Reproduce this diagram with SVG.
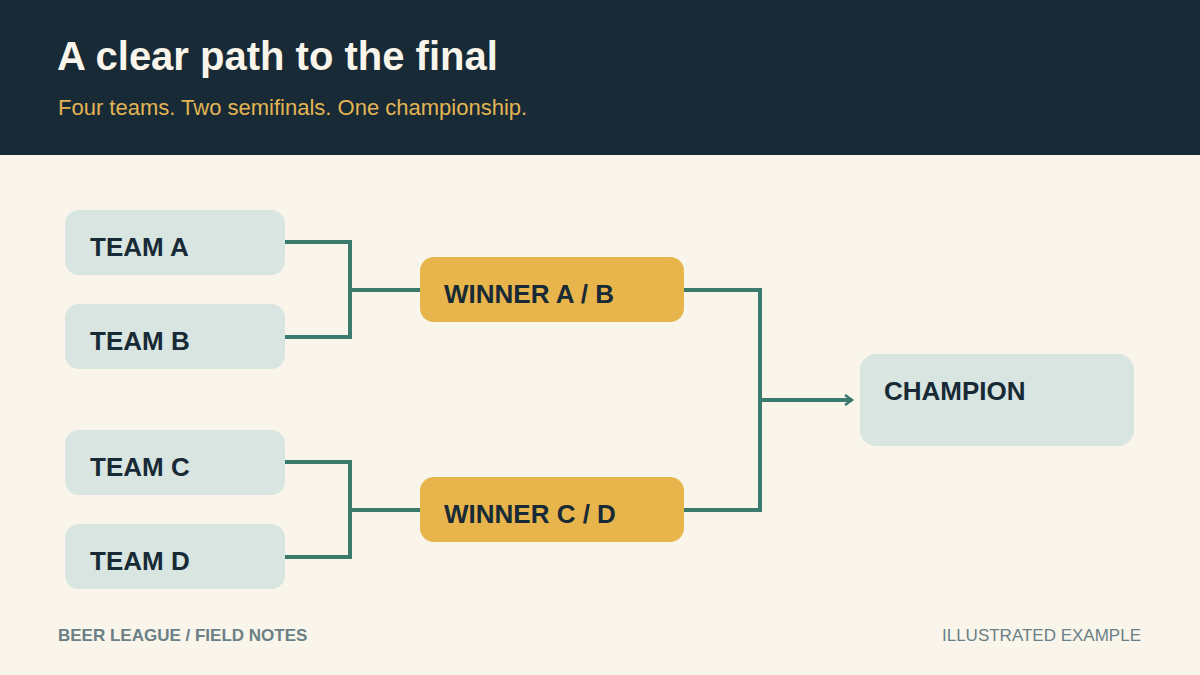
<svg xmlns="http://www.w3.org/2000/svg" width="1200" height="675" viewBox="0 0 1200 675">
<style>
.t{font-family:"Liberation Sans",Arial,sans-serif;font-weight:bold;font-size:26px;fill:#172a36}
.team{fill:#d8e5e0}
.win{fill:#e8b44c}
.c{fill:none;stroke:#3a7b6e;stroke-width:4;stroke-linejoin:miter}
.f{font-family:"Liberation Sans",Arial,sans-serif;font-size:17px;fill:#6b7f86}
</style>
<defs>
<marker id="ah" viewBox="0 0 12 12" refX="9" refY="6" markerWidth="12" markerHeight="12" markerUnits="userSpaceOnUse" orient="auto">
<path d="M2,1 L9,6 L2,11" fill="none" stroke="#3a7b6e" stroke-width="2.5"/>
</marker>
</defs>
<rect width="1200" height="675" fill="#f9f5ea"/>
<rect width="1200" height="155" fill="#172a36"/>
<text x="57" y="70" font-family="Liberation Sans,Arial,sans-serif" font-weight="bold" font-size="40" fill="#f9f5ea">A clear path to the final</text>
<text x="58" y="115" font-family="Liberation Sans,Arial,sans-serif" font-size="22" fill="#e3b453">Four teams. Two semifinals. One championship.</text>
<g id="connectors">
<path class="c" d="M285,242 H350 V337 H285 M350,290 H420"/>
<path class="c" d="M285,462 H350 V557 H285 M350,510 H420"/>
<path class="c" d="M684,290 H760 V510 H684"/>
<path class="c" d="M760,400 H852" marker-end="url(#ah)"/>
</g>
<g id="teamA"><rect class="team" x="65" y="210" width="220" height="65" rx="14"/><text class="t" x="90" y="256">TEAM A</text></g>
<g id="teamB"><rect class="team" x="65" y="304" width="220" height="65" rx="14"/><text class="t" x="90" y="350">TEAM B</text></g>
<g id="teamC"><rect class="team" x="65" y="430" width="220" height="65" rx="14"/><text class="t" x="90" y="476">TEAM C</text></g>
<g id="teamD"><rect class="team" x="65" y="524" width="220" height="65" rx="14"/><text class="t" x="90" y="570">TEAM D</text></g>
<g id="winnerAB"><rect class="win" x="420" y="257" width="264" height="65" rx="14"/><text class="t" x="444" y="303">WINNER A / B</text></g>
<g id="winnerCD"><rect class="win" x="420" y="477" width="264" height="65" rx="14"/><text class="t" x="444" y="523">WINNER C / D</text></g>
<g id="champion"><rect class="team" x="860" y="354" width="274" height="92" rx="16"/><text class="t" x="884" y="400">CHAMPION</text></g>
<text class="f" x="58" y="641" font-weight="bold">BEER LEAGUE / FIELD NOTES</text>
<text class="f" x="1141" y="641" text-anchor="end">ILLUSTRATED EXAMPLE</text>
</svg>
